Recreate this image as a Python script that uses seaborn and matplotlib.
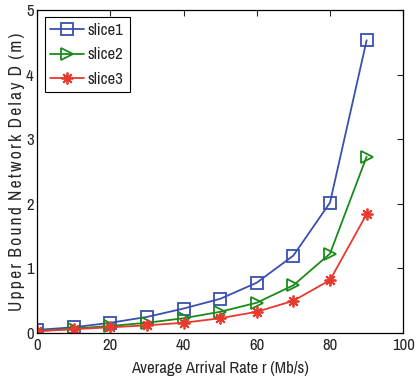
import matplotlib
matplotlib.use("Agg")
import matplotlib.pyplot as plt
import seaborn as sns
import pandas as pd

rate = [0, 10, 20, 30, 40, 50, 60, 70, 80, 90]
slice1 = [0.05, 0.09, 0.16, 0.25, 0.38, 0.53, 0.78, 1.20, 2.02, 4.53]
slice2 = [0.03, 0.07, 0.11, 0.16, 0.23, 0.33, 0.47, 0.74, 1.23, 2.73]
slice3 = [0.03, 0.06, 0.09, 0.12, 0.16, 0.23, 0.33, 0.50, 0.82, 1.84]
names = ["slice1", "slice2", "slice3"]

sns.set_style("white")
plt.rcParams['font.family'] = ['Archivo Narrow', 'Liberation Sans', 'DejaVu Sans']

df = pd.DataFrame({"rate": rate * 3,
                   "D": slice1 + slice2 + slice3,
                   "series": sum([[n] * len(rate) for n in names], [])})

fig = plt.figure(figsize=(4.17, 3.82), dpi=100)
ax = fig.add_axes([0.089, 0.128, 0.878, 0.846])

colors = {"slice1": "#3A4FB0", "slice2": "#1A8A1A", "slice3": "#E8392E"}
markers = {"slice1": "s", "slice2": ">", "slice3": (8, 2, 0)}
for n in names:
    sub = df[df.series == n]
    sns.lineplot(data=sub, x="rate", y="D", ax=ax, color=colors[n], label=n,
                 marker=markers[n], markersize=8.5, markerfacecolor="none",
                 markeredgecolor=colors[n], markeredgewidth=1.3, linewidth=1.3)

ax.set_xlim(0, 100)
ax.set_ylim(0, 5)
ax.set_xticks([0, 20, 40, 60, 80, 100])
ax.set_yticks([0, 1, 2, 3, 4, 5])
ax.tick_params(direction="in", top=True, right=True, length=4, labelsize=12, width=0.8)
ax.tick_params(axis="x", pad=3.5)
ax.tick_params(axis="y", pad=2.5)
for s in ax.spines.values():
    s.set_linewidth(0.9)
    s.set_color("black")

def spaced(text):
    ts = "\u2009"
    words = text.split(" ")
    return (" " + ts).join(ts.join(w) for w in words)

ax.set_xlabel("Average Arrival Rate r (Mb/s)", fontsize=12, labelpad=6)
ax.set_ylabel(spaced("Upper Bound Network Delay D (m)"), fontsize=12.6, labelpad=1)
leg = ax.legend(loc="upper left", fontsize=12, fancybox=False, framealpha=1,
                edgecolor="black", handlelength=2.0, handletextpad=0.25,
                borderpad=0.35, labelspacing=0.55, borderaxespad=0.45)
leg.get_frame().set_linewidth(0.8)

fig.savefig("out.png", dpi=100)
